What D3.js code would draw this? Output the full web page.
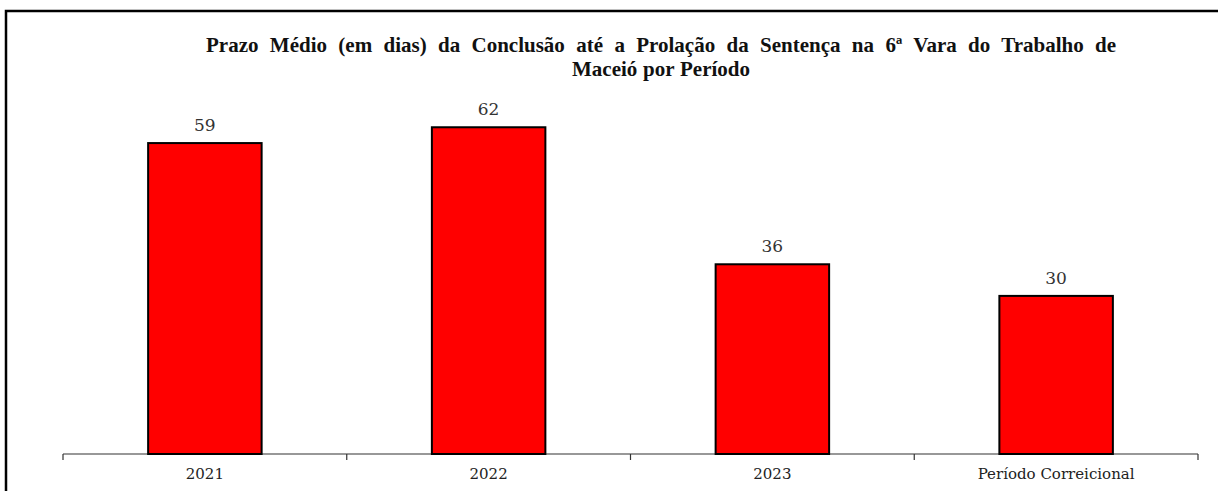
<!DOCTYPE html>
<html><head><meta charset="utf-8">
<script src="https://cdn.jsdelivr.net/npm/d3@7"></script>
<style>body{margin:0;background:#fff}svg{display:block}</style>
</head><body><svg id="c" width="1218" height="491"></svg>
<script>
const categories = ["2021", "2022", "2023", "Período Correicional"];
const values = [59, 62, 36, 30];
const titleLines = ["Prazo Médio (em dias) da Conclusão até a Prolação da Sentença na 6ª Vara do Trabalho de", "Maceió por Período"];

const svg = d3.select("#c");
// frame
svg.append("path").attr("d","M6,491 V11 H1218").attr("fill","none").attr("stroke","#000").attr("stroke-width",2.5);

const x0 = 63, x1 = 1198;
const x = d3.scaleBand().domain(categories).range([x0, x1]).paddingInner(0.6).paddingOuter(0.3);
const y = d3.scaleLinear().domain([0, 70]).range([454, 454 - 5.27*70]);

const g = svg.append("g").attr("transform","translate(0,454)");
g.append("line").attr("x1",x0).attr("x2",x1).attr("stroke","#333").attr("stroke-width",1.2);
const edges = d3.range(categories.length+1).map(i => x0 + i*(x1-x0)/categories.length);
g.selectAll("line.tk").data(edges).join("line").attr("class","tk")
  .attr("x1",d=>d).attr("x2",d=>d).attr("y1",0).attr("y2",6).attr("stroke","#333").attr("stroke-width",1.2);
g.selectAll("text.cat").data(categories).join("text").attr("class","cat")
  .attr("x",d=>x(d)+x.bandwidth()/2).attr("y",25)
  .attr("text-anchor","middle").attr("font-family","DejaVu Serif, serif").attr("font-size",15).attr("fill","#222")
  .text(d=>d);

svg.selectAll("rect.bar").data(values).join("rect").attr("class","bar")
  .attr("x",(d,i)=>x(categories[i])).attr("width",x.bandwidth())
  .attr("y",d=>y(d)).attr("height",d=>y(0)-y(d))
  .attr("fill","#ff0000").attr("stroke","#000").attr("stroke-width",2);

svg.selectAll("text.val").data(values).join("text").attr("class","val")
  .attr("x",(d,i)=>x(categories[i])+x.bandwidth()/2).attr("y",d=>y(d)-12)
  .attr("text-anchor","middle").attr("font-family","DejaVu Serif, serif").attr("font-size",17).attr("fill","#333")
  .text(d=>d);

const titleWidths = [910, 178];
svg.selectAll("text.title").data(titleLines).join("text").attr("class","title")
  .attr("x",661).attr("y",(d,i)=>52+i*24).attr("text-anchor","middle")
  .attr("font-family","'Liberation Serif', 'Times New Roman', serif").attr("font-weight","bold").attr("font-size",21).attr("fill","#111")
  .text(d=>d)
  .each(function(d,i){
    const w = this.getComputedTextLength();
    const spaces = (d.match(/ /g)||[]).length;
    const extra = (titleWidths[i]-w)/spaces;
    if (extra > 0) d3.select(this).attr("word-spacing", extra);
  });
</script></body></html>
